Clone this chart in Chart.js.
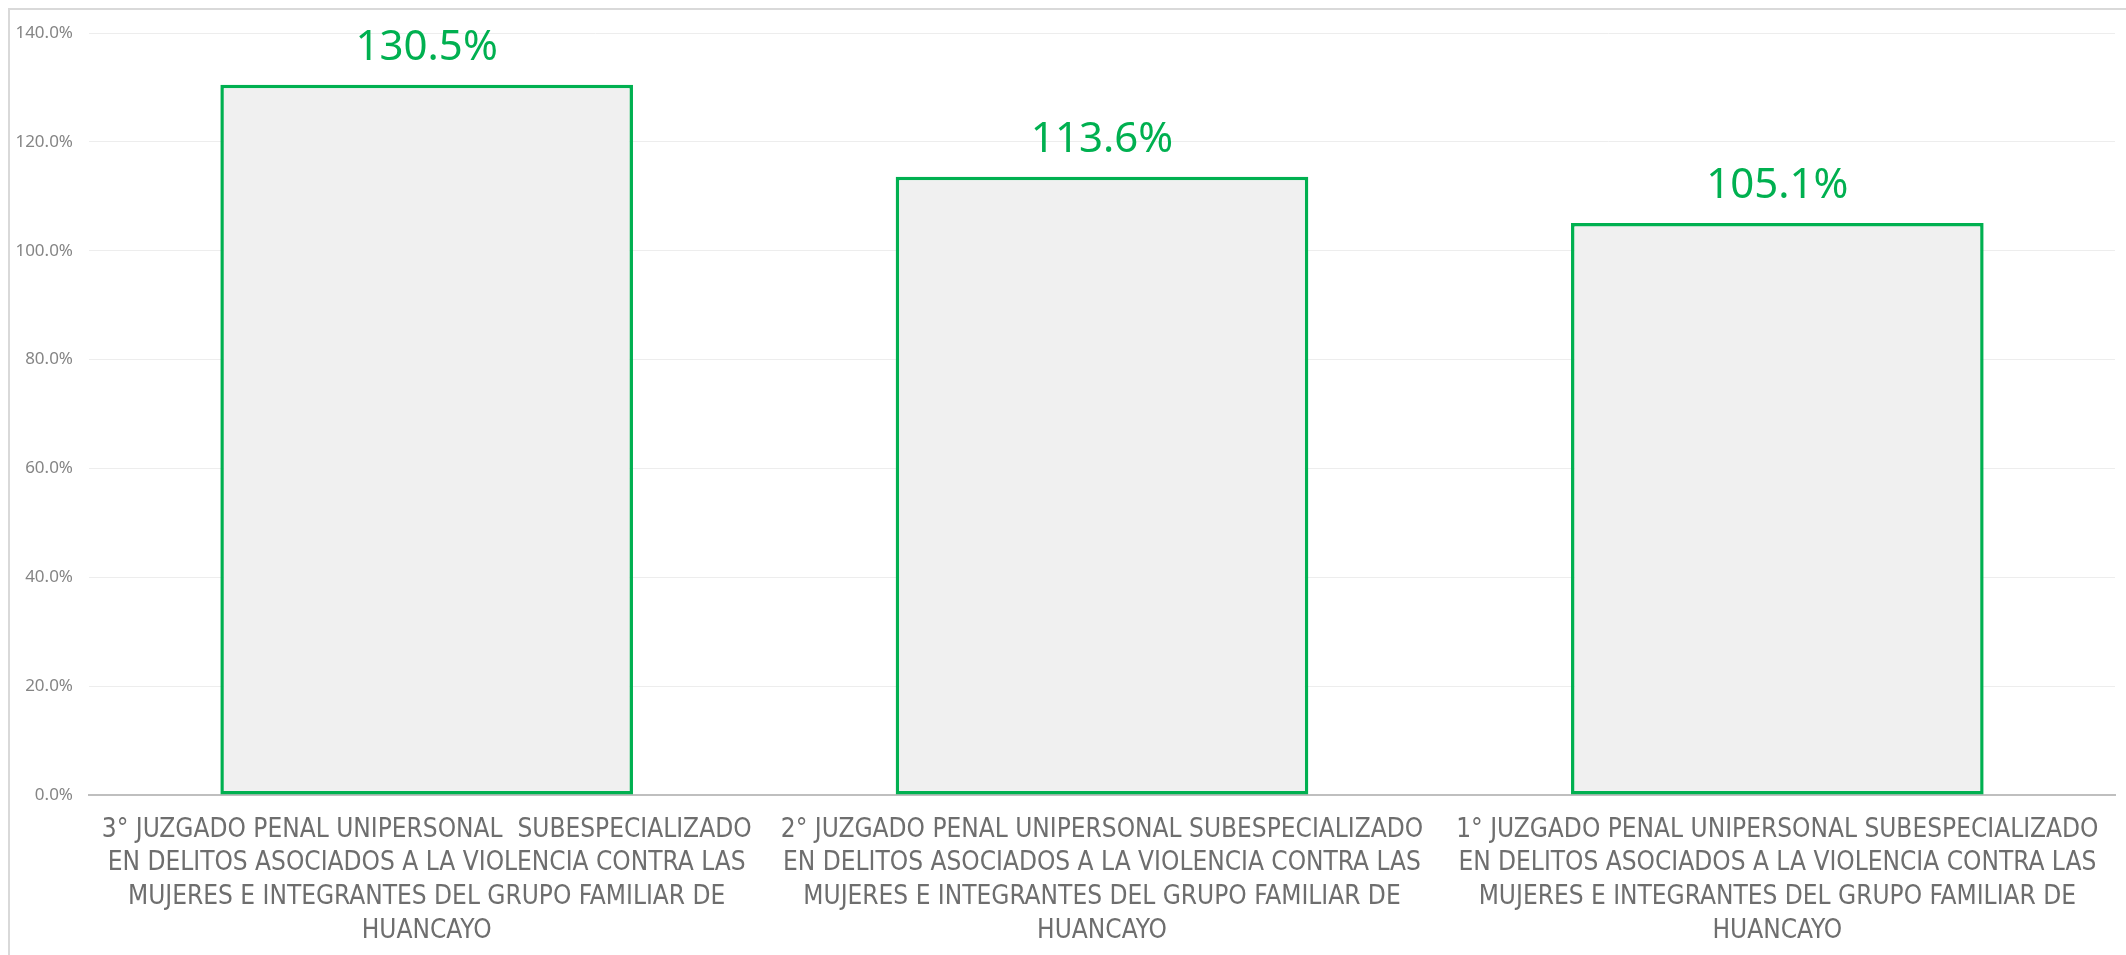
<!DOCTYPE html>
<html>
<head>
<meta charset="utf-8">
<script src="https://cdn.jsdelivr.net/npm/chart.js@4.4.1/dist/chart.umd.min.js"></script>
<style>
    html, body { margin: 0; padding: 0; background: #fff; overflow: hidden; }
    .frame {
        position: absolute; left: 8px; top: 8px;
        width: 2300px; height: 1100px;
        border: 2px solid #d9d9d9;
    }
    .wrap { position: absolute; left: 0; top: 0; width: 2126px; height: 955px; }
</style>
</head>
<body>
<div class="frame"></div>
<div class="wrap"><canvas id="chart"></canvas></div>
<script>
const courtLabels = [
    ['3° JUZGADO PENAL UNIPERSONAL  SUBESPECIALIZADO', 'EN DELITOS ASOCIADOS A LA VIOLENCIA CONTRA LAS', 'MUJERES E INTEGRANTES DEL GRUPO FAMILIAR DE', 'HUANCAYO'],
    ['2° JUZGADO PENAL UNIPERSONAL SUBESPECIALIZADO', 'EN DELITOS ASOCIADOS A LA VIOLENCIA CONTRA LAS', 'MUJERES E INTEGRANTES DEL GRUPO FAMILIAR DE', 'HUANCAYO'],
    ['1° JUZGADO PENAL UNIPERSONAL SUBESPECIALIZADO', 'EN DELITOS ASOCIADOS A LA VIOLENCIA CONTRA LAS', 'MUJERES E INTEGRANTES DEL GRUPO FAMILIAR DE', 'HUANCAYO']
];
const progressValues = [130.5, 113.6, 105.1];
const yTicks = [0, 20, 40, 60, 80, 100, 120, 140];

const green = '#00B050';

// value labels drawn above each bar
const valueLabels = {
    id: 'valueLabels',
    afterDatasetsDraw(chart) {
        const { ctx } = chart;
        const meta = chart.getDatasetMeta(0);
        ctx.save();
        ctx.fillStyle = green;
        ctx.font = '42px "Noto Sans"';
        ctx.textAlign = 'center';
        ctx.textBaseline = 'middle';
        meta.data.forEach((bar, i) => {
            ctx.fillText(progressValues[i].toFixed(1) + '%', bar.x, bar.y - 37);
        });
        ctx.restore();
    }
};

new Chart(document.getElementById('chart').getContext('2d'), {
    type: 'bar',
    data: {
        labels: courtLabels,
        datasets: [{
            data: progressValues,
            backgroundColor: '#F0F0F0',
            borderColor: green,
            borderWidth: 3.5,
            borderSkipped: false,
            categoryPercentage: 1,
            barPercentage: 0.611
        }]
    },
    options: {
        responsive: true,
        maintainAspectRatio: false,
        animation: false,
        layout: { padding: { left: 0, top: 33, right: 11, bottom: 0 } },
        plugins: {
            legend: { display: false },
            tooltip: { enabled: false }
        },
        scales: {
            x: {
                grid: { display: false, drawTicks: false },
                border: { display: true, color: '#BFBFBF', width: 2 },
                ticks: {
                    autoSkip: false,
                    maxRotation: 0,
                    minRotation: 0,
                    padding: 18,
                    color: '#6e6e6e',
                    font: { family: '"Liberation Sans Narrow", "DejaVu Sans Condensed", sans-serif', size: 26, lineHeight: 1.3 }
                },
                afterFit: (s) => {
                    s.height = 160;
                    s.paddingLeft = 0;
                    s.paddingRight = 0;
                }
            },
            y: {
                min: 0,
                max: 140,
                afterBuildTicks: (s) => { s.ticks = yTicks.map((v) => ({ value: v })); },
                grid: { color: '#EDEDED', lineWidth: 1, drawTicks: false },
                border: { display: false },
                ticks: {
                    padding: 16,
                    color: '#858585',
                    font: { family: '"Noto Sans", sans-serif', size: 17 },
                    callback: (v) => v.toFixed(1) + '%'
                },
                afterFit: (s) => { s.width = 89; }
            }
        }
    },
    plugins: [valueLabels]
});
</script>
</body>
</html>
